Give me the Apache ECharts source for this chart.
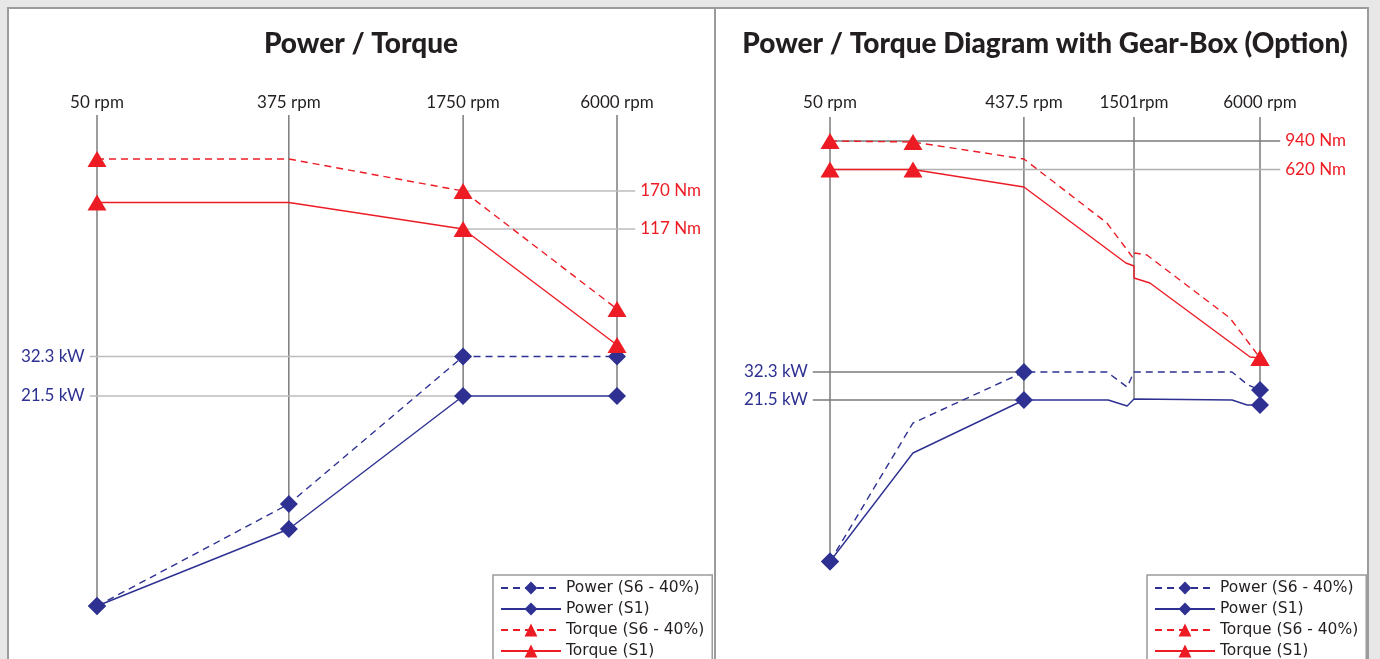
<!DOCTYPE html>
<html>
<head>
<meta charset="utf-8">
<title>Power / Torque</title>
<script src="https://cdn.jsdelivr.net/npm/echarts@6/dist/echarts.min.js"></script>
<style>
html, body { margin: 0; padding: 0; background: #e7e7e7; }
#main { width: 1380px; height: 659px; }
</style>
</head>
<body>
<div id="main"></div>
<script>
// The diagrams are schematic: x is the position across the diagram (0-100),
// y is the height in the diagram (0-100), both read off the picture.

// left: Power / Torque
var leftRpmLabels = ['50 rpm', '375 rpm', '1750 rpm', '6000 rpm'];
var leftRpmPos = [0, 36.9, 70.4, 100];
var leftPowerS6 = [1.8, 22.2, 51.7, 51.7];
var leftPowerS1 = [1.8, 17.2, 43.8, 43.8];
var leftTorqueS6 = [91.2, 91.2, 84.8, 61.2];
var leftTorqueS1 = [82.5, 82.5, 77.2, 54.0];
var leftPowerMarks = [0, 1, 2, 3];
var leftTorqueMarks = [0, 2, 3];
var leftRefLabels = ['170 Nm', '117 Nm', '32.3 kW', '21.5 kW'];
var leftRefLevels = [84.8, 77.2, 51.7, 43.8];

// right: with gear-box
var rightRpmLabels = ['50 rpm', '437.5 rpm', '1501rpm', '6000 rpm'];
var rightRpmPos = [0, 45.1, 70.7, 100];
var rightTorqueS6 = [[0, 95.2], [19.3, 95.0], [45.1, 91.6], [64.4, 78.8], [70.5, 71.8],
    [70.9, 72.8], [73.7, 72.4], [93.0, 59.8], [98.1, 54.0], [100, 51.8]];
var rightTorqueS1 = [[0, 89.5], [19.3, 89.5], [45.1, 86.0], [68.8, 70.8], [70.7, 70.2],
    [70.7, 67.8], [74.4, 66.8], [97.7, 52.0], [100, 51.8]];
var rightPowerS6 = [[0, 11.1], [19.3, 38.8], [45.1, 49.0], [64.4, 49.0], [69.1, 46.0],
    [70.7, 49.0], [93.5, 49.0], [97.2, 46.4], [100, 45.4]];
var rightPowerS1 = [[0, 11.1], [19.3, 32.8], [45.1, 43.4], [64.7, 43.4], [69.1, 42.2],
    [70.7, 43.6], [93.5, 43.4], [97.0, 42.4], [100, 42.4]];
var rightTorqueS6Marks = [0, 1, 9];
var rightTorqueS1Marks = [0, 1, 8];
var rightPowerMarks = [0, 2, 8];
var rightRefLabels = ['940 Nm', '620 Nm', '32.3 kW', '21.5 kW'];
var rightRefLevels = [95.2, 89.5, 49.0, 43.4];

var seriesNames = ['Power (S6 - 40%)', 'Power (S1)', 'Torque (S6 - 40%)', 'Torque (S1)'];

var RED = '#ed1c24';
var BLUE = '#2e3192';
var INK = '#231f20';
var FONT = 'Lato';

function pairs(pos, vals) {
    return vals.map(function (v, i) { return [pos[i], v]; });
}

var leftCurves = [pairs(leftRpmPos, leftPowerS6), pairs(leftRpmPos, leftPowerS1),
    pairs(leftRpmPos, leftTorqueS6), pairs(leftRpmPos, leftTorqueS1)];
var rightCurves = [rightPowerS6, rightPowerS1, rightTorqueS6, rightTorqueS1];

function curve(i, pts, marks, g) {
    var power = i < 2;
    var dashed = i % 2 === 0;
    var color = power ? BLUE : RED;
    return {
        name: seriesNames[i],
        type: 'line',
        xAxisIndex: g,
        yAxisIndex: g,
        clip: false,
        silent: true,
        symbol: power ? 'diamond' : 'triangle',
        symbolSize: power ? 18 : [19, 16],
        data: pts.map(function (p, k) {
            return marks.indexOf(k) >= 0 ? { value: p } : { value: p, symbol: 'none' };
        }),
        lineStyle: { color: color, width: 1.4, type: dashed ? [7, 5] : 'solid' },
        itemStyle: { color: color },
        z: 3
    };
}

function dropLine(pos, curves, g) {
    var bottom = 100;
    curves.forEach(function (c) {
        c.forEach(function (p) {
            if (Math.abs(p[0] - pos) < 0.01) bottom = Math.min(bottom, p[1]);
        });
    });
    return {
        type: 'line', xAxisIndex: g, yAxisIndex: g, silent: true, symbol: 'none', z: 1,
        lineStyle: { color: '#3a3a3a', width: 1 },
        data: [[pos, 100], [pos, bottom]]
    };
}

function refLine(text, level, from, to, g, color, side) {
    var labelled = side === 'right' ? 1 : 0;
    var power = side === 'left';
    var data = [[from, level], [to, level]].map(function (p, k) {
        var item = { value: p };
        if (k === labelled) {
            item.label = {
                show: true, position: side, distance: 5, formatter: text,
                color: power ? BLUE : RED, fontSize: 17, fontFamily: FONT
            };
        }
        return item;
    });
    return {
        type: 'line', xAxisIndex: g, yAxisIndex: g, clip: false, silent: true,
        symbol: 'circle', symbolSize: 0, z: 2,
        lineStyle: { color: color, width: 1.4 },
        data: data
    };
}

function rpmAxis(g, pos, labels, lo, hi, margin) {
    return {
        type: 'value', gridIndex: g, position: 'top', min: lo, max: hi,
        axisLine: { show: false }, axisTick: { show: false }, splitLine: { show: false },
        axisLabel: {
            customValues: pos,
            margin: margin,
            fontSize: 17, fontFamily: FONT, color: INK,
            formatter: function (v) {
                for (var i = 0; i < pos.length; i++) {
                    if (Math.abs(pos[i] - v) < 0.01) return labels[i];
                }
                return '';
            }
        }
    };
}

var series = [];
leftRpmPos.forEach(function (p) { series.push(dropLine(p, leftCurves, 0)); });
rightRpmPos.forEach(function (p) { series.push(dropLine(p, rightCurves, 1)); });

leftRefLabels.forEach(function (t, i) {
    if (i < 2) series.push(refLine(t, leftRefLevels[i], leftRpmPos[2], 103.5, 0, '#bdbdbd', 'right'));
    else series.push(refLine(t, leftRefLevels[i], -1.4, leftRpmPos[2], 0, '#bdbdbd', 'left'));
});
rightRefLabels.forEach(function (t, i) {
    var c = i === 1 ? '#b0b0b0' : '#7a7a7a';
    if (i < 2) series.push(refLine(t, rightRefLevels[i], rightRpmPos[0], 104.7, 1, c, 'right'));
    else series.push(refLine(t, rightRefLevels[i], -4.0, rightRpmPos[1], 1, c, 'left'));
});

series.push(curve(0, leftCurves[0], leftPowerMarks, 0));
series.push(curve(1, leftCurves[1], leftPowerMarks, 0));
series.push(curve(2, leftCurves[2], leftTorqueMarks, 0));
series.push(curve(3, leftCurves[3], leftTorqueMarks, 0));
series.push(curve(0, rightPowerS6, rightPowerMarks, 1));
series.push(curve(1, rightPowerS1, rightPowerMarks, 1));
series.push(curve(2, rightTorqueS6, rightTorqueS6Marks, 1));
series.push(curve(3, rightTorqueS1, rightTorqueS1Marks, 1));

function legendBox(left) {
    return {
        data: seriesNames,
        orient: 'vertical',
        left: left, top: 575, height: 160,
        padding: [5, 8, 10, 7],
        itemWidth: 60, itemHeight: 16, itemGap: 5,
        backgroundColor: '#fff',
        borderColor: '#9a9a9a', borderWidth: 1.5,
        selectedMode: false,
        textStyle: { fontSize: 15.5, fontFamily: 'DejaVu Sans', color: INK }
    };
}

var myChart = echarts.init(document.getElementById('main'));

var option = {
    backgroundColor: '#e7e7e7',
    animation: false,
    graphic: [
        { type: 'rect', z: -10, shape: { x: 8, y: 8, width: 707, height: 700 },
          style: { fill: '#fff', stroke: '#9b9b9b', lineWidth: 2 } },
        { type: 'rect', z: -10, shape: { x: 715, y: 8, width: 653, height: 700 },
          style: { fill: '#fff', stroke: '#9b9b9b', lineWidth: 2 } }
    ],
    title: [
        { text: 'Power / Torque', left: 361, top: 30, textAlign: 'center', padding: 0,
          textStyle: { fontSize: 28, fontWeight: 900, fontFamily: FONT, color: INK } },
        { text: 'Power / Torque Diagram with Gear-Box (Option)', left: 1045, top: 30, textAlign: 'center', padding: 0,
          textStyle: { fontSize: 28, fontWeight: 900, fontFamily: FONT, color: INK } }
    ],
    legend: [legendBox(493), legendBox(1147)],
    // grids are a bit wider than the columns so the reference lines fit inside
    grid: [
        { left: 86.6, top: 115, width: 551.2, height: 500 },
        { left: 810.65, top: 117, width: 470.85, height: 500 }
    ],
    xAxis: [
        rpmAxis(0, leftRpmPos, leftRpmLabels, -2, 104, 4),
        rpmAxis(1, rightRpmPos, rightRpmLabels, -4.5, 105, 6)
    ],
    yAxis: [
        { type: 'value', gridIndex: 0, min: 0, max: 100, show: false },
        { type: 'value', gridIndex: 1, min: 0, max: 100, show: false }
    ],
    series: series
};

myChart.setOption(option);

window.onresize = function () {
    myChart.resize();
};
</script>
</body>
</html>
